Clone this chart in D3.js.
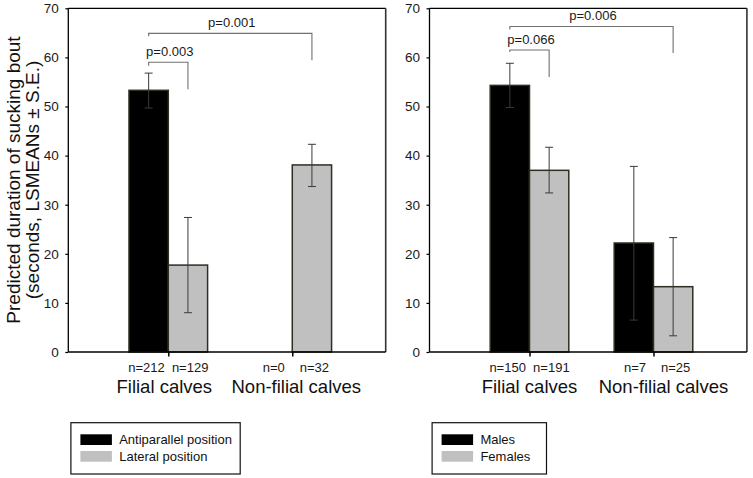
<!DOCTYPE html>
<html>
<head>
<meta charset="utf-8">
<script src="https://cdn.jsdelivr.net/npm/d3@7"></script>
<style>
  html, body { margin: 0; padding: 0; background: #fff; }
  svg { display: block; font-family: "Liberation Sans", Arial, sans-serif; }
</style>
</head>
<body>
<svg id="chart" width="753" height="478"></svg>
<script>
// ---------------- DATA ----------------
const categories = ["Filial calves", "Non-filial calves"];
const yTicks = [0, 10, 20, 30, 40, 50, 60, 70];
const yTitleLines = ["Predicted duration of sucking bout", "(seconds, LSMEANs \u00B1 S.E.)"];

// Panel A: suckling position
const seriesA = ["Antiparallel position", "Lateral position"];
const antiparallelMean  = [53.3, null];
const antiparallelUpper = [56.8, null];
const antiparallelLower = [49.7, null];
const antiparallelN     = [212, 0];
const lateralMean  = [17.7, 38.1];
const lateralUpper = [27.4, 42.3];
const lateralLower = [8.0, 33.7];
const lateralN     = [129, 32];
const bracketsA = [
  { from: [0, 0], to: [0, 1], y: 59.0, yLeft: 58.3, yRight: 53.5, label: "p=0.003" },
  { from: [0, 0], to: [1, 1], y: 64.9, yLeft: 64.3, yRight: 59.4, label: "p=0.001" }
];

// Panel B: sex
const seriesB = ["Males", "Females"];
const malesMean  = [54.3, 22.2];
const malesUpper = [58.8, 37.8];
const malesLower = [49.8, 6.5];
const malesN     = [150, 7];
const femalesMean  = [37.0, 13.3];
const femalesUpper = [41.7, 23.3];
const femalesLower = [32.4, 3.3];
const femalesN     = [191, 25];
const bracketsB = [
  { from: [0, 0], to: [0, 1], y: 61.5, yLeft: 61.1, yRight: 56.0, label: "p=0.066" },
  { from: [0, 0], to: [1, 1], y: 66.3, yLeft: 65.7, yRight: 60.9, label: "p=0.006" }
];

// ---------------- STYLE / LAYOUT ----------------
const fills = ["#000000", "#c0c0c0"];
const barStroke = "#2e2e22";
const errColor = "#3a3a3a";
const bracketColor = "#707070";
const plotTop = 8.3, plotBottom = 352;
const panelW = 317.4;
const barW = 39.3;
const nGap = [3.6, 7.5];          // half-gap between n labels per category

const svg = d3.select("#chart");
const y = d3.scaleLinear().domain([0, 70]).range([plotBottom, plotTop]);

function buildPanel(x0, series, means, uppers, lowers, ns, brackets, legendW, catDx) {
  const g = svg.append("g").attr("transform", `translate(${x0},0)`);
  const x = d3.scalePoint().domain(categories).range([0, panelW]).padding(0.78).align(0.517);
  const xs = d3.scaleBand().domain(series).range([-barW, barW]).padding(0);

  const rows = [];
  series.forEach((s, si) => {
    categories.forEach((c, ci) => {
      rows.push({ s, si, c, ci, v: means[si][ci], hi: uppers[si][ci], lo: lowers[si][ci], n: ns[si][ci] });
    });
  });
  const cx = d => x(d.c) + xs(d.s) + xs.bandwidth() / 2;

  // bars
  g.selectAll("rect.bar").data(rows.filter(d => d.v != null)).join("rect")
    .attr("class", "bar")
    .attr("x", d => x(d.c) + xs(d.s))
    .attr("width", xs.bandwidth())
    .attr("y", d => y(d.v))
    .attr("height", d => y(0) - y(d.v))
    .attr("fill", d => fills[d.si])
    .attr("stroke", barStroke)
    .attr("stroke-width", 1.5);

  // error bars
  const eb = g.selectAll("g.err").data(rows.filter(d => d.v != null)).join("g").attr("class", "err")
    .attr("stroke", errColor).attr("stroke-width", 1);
  eb.append("line").attr("x1", cx).attr("x2", cx).attr("y1", d => y(d.hi)).attr("y2", d => y(d.lo));
  eb.append("line").attr("x1", d => cx(d) - 4).attr("x2", d => cx(d) + 4).attr("y1", d => y(d.hi)).attr("y2", d => y(d.hi));
  eb.append("line").attr("x1", d => cx(d) - 4).attr("x2", d => cx(d) + 4).attr("y1", d => y(d.lo)).attr("y2", d => y(d.lo));

  // frame
  g.append("line").attr("x1", 0).attr("x2", panelW).attr("y1", plotTop).attr("y2", plotTop).attr("stroke", "#000").attr("stroke-width", 1.3);
  g.append("line").attr("x1", panelW).attr("x2", panelW).attr("y1", plotTop).attr("y2", plotBottom).attr("stroke", "#333").attr("stroke-width", 1.6);
  g.append("line").attr("x1", 0).attr("x2", panelW).attr("y1", plotBottom).attr("y2", plotBottom).attr("stroke", "#000").attr("stroke-width", 1.3);
  g.append("line").attr("x1", 0).attr("x2", 0).attr("y1", plotTop).attr("y2", plotBottom).attr("stroke", "#000").attr("stroke-width", 1.3);

  // y axis
  const ya = g.append("g").call(d3.axisLeft(y).tickValues(yTicks).tickSize(3).tickPadding(6.5));
  ya.select(".domain").remove();
  ya.attr("font-family", null).attr("font-size", null);
  ya.selectAll("line").attr("stroke", "#000").attr("stroke-width", 1.2);
  ya.selectAll("text").attr("font-size", 13.5).attr("fill", "#1a1a1a");

  // x axis ticks
  const xa = g.append("g").attr("transform", `translate(0,${plotBottom})`)
    .call(d3.axisBottom(x).tickSize(4.5).tickFormat(""));
  xa.select(".domain").remove();
  xa.selectAll("line").attr("stroke", "#000").attr("stroke-width", 1.5);

  // n labels (pair under each category tick)
  g.selectAll("text.n").data(rows).join("text").attr("class", "n")
    .attr("x", d => x(d.c) + (d.si === 0 ? -nGap[d.ci] : nGap[d.ci]))
    .attr("y", plotBottom + 20.3)
    .attr("text-anchor", d => d.si === 0 ? "end" : "start")
    .attr("font-size", 13).attr("fill", "#1a1a1a")
    .text(d => "n=" + d.n);

  // category labels
  g.selectAll("text.cat").data(categories).join("text").attr("class", "cat")
    .attr("x", (d, i) => x(d) + catDx[i]).attr("y", plotBottom + 40.7)
    .attr("text-anchor", "middle").attr("font-size", 18.5).attr("fill", "#111")
    .text(d => d);

  // brackets
  const bx = ref => x(categories[ref[0]]) + xs(series[ref[1]]) + xs.bandwidth() / 2;
  const bg = g.selectAll("g.br").data(brackets).join("g").attr("class", "br");
  bg.append("path")
    .attr("d", d => `M${bx(d.from)},${y(d.yLeft)}V${y(d.y)}H${bx(d.to)}V${y(d.yRight)}`)
    .attr("fill", "none").attr("stroke", bracketColor).attr("stroke-width", 1.1);
  bg.append("text")
    .attr("x", d => (bx(d.from) + bx(d.to)) / 2 + 1.5)
    .attr("y", d => y(d.y) - 6.5)
    .attr("text-anchor", "middle").attr("font-size", 13).attr("fill", "#1a1a1a")
    .text(d => d.label);

  // legend
  const lg = g.append("g").attr("transform", `translate(2.6,422.7)`);
  lg.append("rect").attr("x", 0).attr("y", 0).attr("width", legendW).attr("height", 51.3)
    .attr("fill", "#fff").attr("stroke", "#111").attr("stroke-width", 1.2);
  const li = lg.selectAll("g.li").data(series).join("g").attr("class", "li")
    .attr("transform", (d, i) => `translate(9.5,${11.6 + i * 16.7})`);
  li.append("rect").attr("width", 31.5).attr("height", 10.7).attr("fill", (d, i) => fills[i]);
  li.append("text").attr("x", 38.8).attr("y", 9.8).attr("font-size", 13).attr("fill", "#111").text(d => d);
}

buildPanel(68.3, seriesA,
  [antiparallelMean, lateralMean], [antiparallelUpper, lateralUpper], [antiparallelLower, lateralLower],
  [antiparallelN, lateralN], bracketsA, 169.3, [-4, 4]);
buildPanel(429.5, seriesB,
  [malesMean, femalesMean], [malesUpper, femalesUpper], [malesLower, femalesLower],
  [malesN, femalesN], bracketsB, 114.4, [0, 10]);

// y title
const yt = svg.append("g");
yt.selectAll("text").data(yTitleLines).join("text")
  .attr("transform", (d, i) => `translate(${19.5 + i * 19.5},180) rotate(-90)`)
  .attr("text-anchor", "middle").attr("font-size", 19).attr("fill", "#111")
  .text(d => d);
</script>
</body>
</html>
